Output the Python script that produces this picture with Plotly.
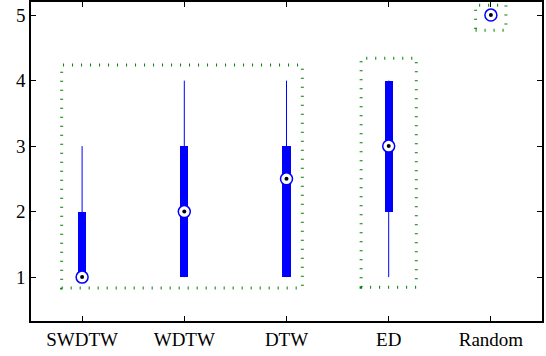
import plotly.graph_objects as go

categories = ["SWDTW", "WDTW", "DTW", "ED", "Random"]
whisker_low = [1, 1, 1, 1, 5]
q1 = [1, 1, 1, 2, 5]
median = [1, 2, 2.5, 3, 5]
q3 = [2, 3, 3, 4, 5]
whisker_high = [3, 4, 4, 4, 5]

# group outlines (x0, x1, y0, y1) in data units
groups_x0 = [0.80, 3.73, 4.85]
groups_x1 = [3.155, 4.27, 5.147]
groups_y0 = [0.832, 0.847, 4.77]
groups_y1 = [4.237, 4.34, 5.15]

xpos = list(range(1, len(categories) + 1))
BLUE = "rgb(0,0,255)"
GREEN = "rgb(0,128,0)"
FONT = "Times New Roman, Liberation Serif, serif"

fig = go.Figure()

for x, lo, hi in zip(xpos, whisker_low, whisker_high):
    if hi > lo:
        fig.add_trace(go.Scatter(x=[x, x], y=[lo, hi], mode="lines",
                                 line=dict(color=BLUE, width=1),
                                 showlegend=False, hoverinfo="skip"))

fig.add_trace(go.Bar(x=xpos, y=[b - a for a, b in zip(q1, q3)], base=q1,
                     width=0.08, marker=dict(color=BLUE, line=dict(width=0)),
                     showlegend=False, hoverinfo="skip"))

fig.add_trace(go.Scatter(x=xpos, y=median, mode="markers",
                         marker=dict(symbol="circle", size=12, color="white",
                                     line=dict(color=BLUE, width=1.5)),
                         showlegend=False, hoverinfo="skip"))
fig.add_trace(go.Scatter(x=xpos, y=median, mode="markers",
                         marker=dict(symbol="circle", size=4, color="black"),
                         showlegend=False, hoverinfo="skip"))

for x0, x1, y0, y1 in zip(groups_x0, groups_x1, groups_y0, groups_y1):
    fig.add_shape(type="rect", x0=x0, x1=x1, y0=y0, y1=y1, xref="x", yref="y",
                  line=dict(color=GREEN, width=3, dash="1px,8px"),
                  fillcolor="rgba(0,0,0,0)", layer="above")

fig.update_layout(
    width=546, height=356,
    margin=dict(l=31, r=4, t=2, b=35, autoexpand=False),
    paper_bgcolor="white", plot_bgcolor="white",
    font=dict(family=FONT, size=19, color="black"),
    bargap=0,
)
fig.update_xaxes(range=[0.5, 5.5], tickmode="array", tickvals=xpos,
                 ticktext=categories, ticks="inside", ticklen=5,
                 tickcolor="black", showline=True, linecolor="black",
                 linewidth=1.5, mirror="ticks", showgrid=False, zeroline=False,
                 automargin=False, tickfont=dict(family=FONT, size=19))
fig.update_yaxes(range=[0.33, 5.2], tickmode="array", tickvals=[1, 2, 3, 4, 5],
                 ticks="inside", ticklen=5, tickcolor="black", showline=True,
                 linecolor="black", linewidth=1.5, mirror="ticks",
                 showgrid=False, zeroline=False, automargin=False,
                 tickfont=dict(family=FONT, size=19))

fig.write_html("out.html", config={"displayModeBar": False},
               post_script="document.body.style.margin='0';")
